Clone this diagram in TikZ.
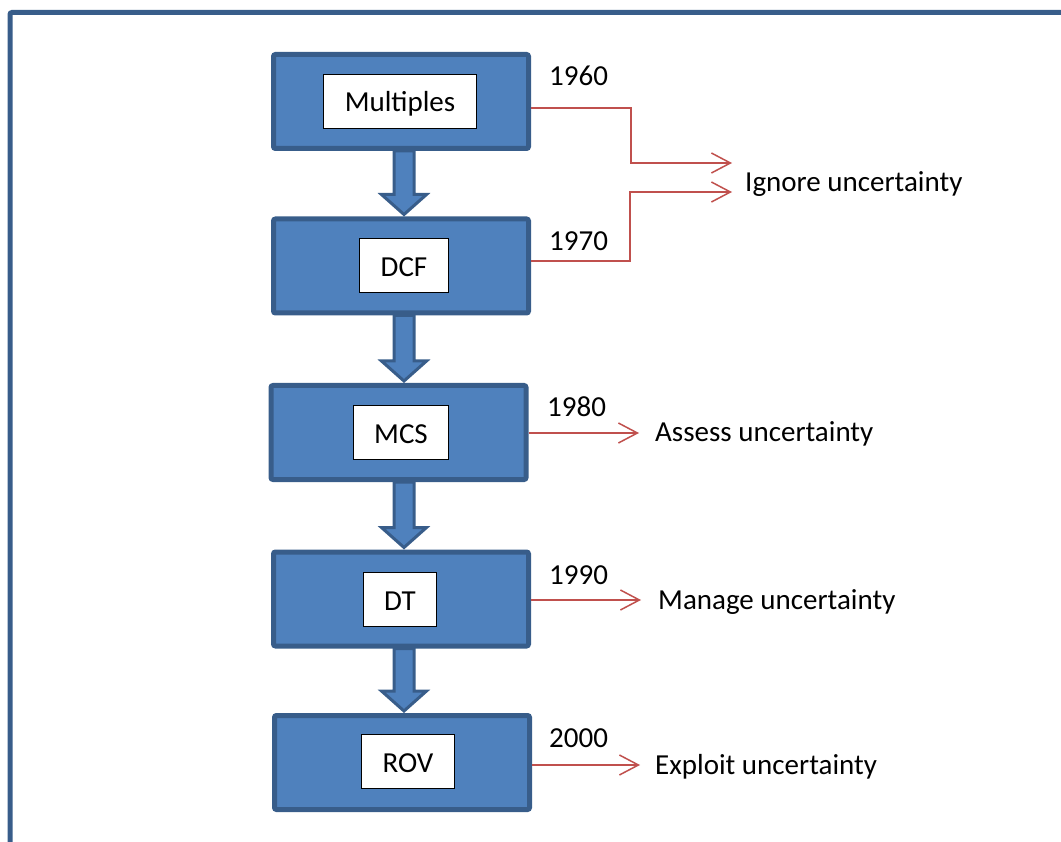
\documentclass[tikz,border=0pt]{standalone}
\usepackage{fontspec}
\setmainfont{Carlito}
\usetikzlibrary{calc,arrows.meta}

\definecolor{boxblue}{HTML}{4F81BD}
\definecolor{edgeblue}{HTML}{385D8A}
\definecolor{linkred}{HTML}{C0504D}

\newcommand{\bigfont}{\fontsize{29}{35}\selectfont}

\tikzset{
  stage/.style={draw=edgeblue, fill=boxblue, line width=5pt, rounded corners=2pt,
    minimum width=255pt, minimum height=94pt, inner sep=0pt},
  method/.style={draw=black, fill=white, line width=0.8pt, inner xsep=21pt, inner ysep=0pt,
    minimum height=54pt, text height=22pt, text depth=0pt, font=\bigfont},
  year/.style={anchor=base west, inner sep=0pt, font=\bigfont},
  outcome/.style={anchor=base west, inner sep=0pt, font=\bigfont},
  link/.style={draw=linkred, line width=1.5pt, -{Straight Barb[length=19pt,width=20pt]}},
  flow/.style={draw=edgeblue, fill=boxblue, line width=3pt, miter limit=4,
    to path={let \p1=(\tikztostart), \p2=(\tikztotarget) in
      (\x1-10pt,\y1) -- (\x1+10pt,\y1) -- (\x1+10pt,\y2+22pt) -- (\x1+22.5pt,\y2+22pt)
      -- (\x1,\y2+2pt) -- (\x1-22.5pt,\y2+22pt) -- (\x1-10pt,\y2+22pt) -- cycle}}
}

\begin{document}
\begin{tikzpicture}[x=1pt,y=-1pt]
\useasboundingbox (0,0) rectangle (1061,842);
\clip (0,0) rectangle (1061,842);

% frame
\draw [edgeblue, line width=5pt, rounded corners=2pt] (10,880) -- (10,12.5) -- (1100,12.5);

% stages
\node [stage] (s1) at (401,101.5) {};
\node [stage] (s2) at (401,266) {};
\node [stage] (s3) at (398.5,432.5) {};
\node [stage] (s4) at (401,599) {};
\node [stage] (s5) at (402,762.5) {};

\node [method] (m1) at (400,101) {Multiples};
\node [method] (m2) at (404,265.5) {DCF};
\node [method] (m3) at (401,432) {MCS};
\node [method] (m4) at (400,599) {DT};
\node [method] (m5) at (408,761) {ROV};

% block arrows
\draw [flow] ([xshift=3pt]s1.south) to (s2.north);
\draw [flow] ([xshift=3pt]s2.south) to (s3.north);
\draw [flow] ([xshift=5.5pt]s3.south) to (s4.north);
\draw [flow] ([xshift=3pt]s4.south) to (s5.north);

% years
\node [year] (y1) at (549,86) {1960};
\node [year] (y2) at (549,251) {1970};
\node [year] (y3) at (547,417) {1980};
\node [year] (y4) at (549,584) {1990};
\node [year] (y5) at (549,747) {2000};

% outcomes
\node [outcome] (o1) at (745,192) {Ignore uncertainty};
\node [outcome] (o3) at (655,442) {Assess uncertainty};
\node [outcome] (o4) at (658,609) {Manage uncertainty};
\node [outcome] (o5) at (655,774) {Exploit uncertainty};

\coordinate (t1) at (732,163);
\coordinate (t2) at (732,192);
\coordinate (t3) at (639,433);
\coordinate (t4) at (641,600);
\coordinate (t5) at (640,765);

\draw [link] ([yshift=-6.5pt]s1.east) -- ++(100,0) |- (t1);
\draw [link] ([yshift=5pt]s2.east) -- ++(99,0) |- (t2);
\draw [link] ([yshift=-0.5pt]s3.east) -- (t3);
\draw [link] ([yshift=-1pt]s4.east) -- (t4);
\draw [link] ([yshift=-2.5pt]s5.east) -- (t5);
\end{tikzpicture}
\end{document}
